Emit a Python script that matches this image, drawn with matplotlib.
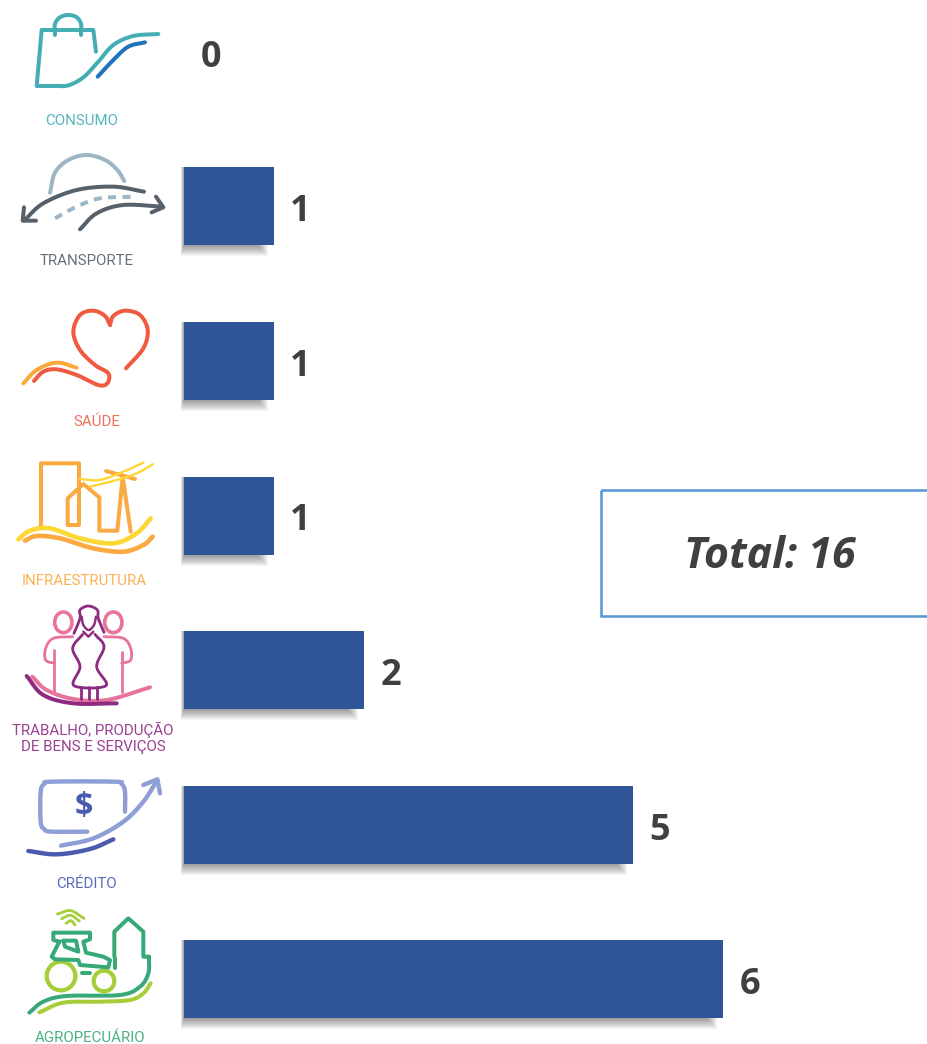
import numpy as np
import matplotlib
matplotlib.use('Agg')
import matplotlib.pyplot as plt
from matplotlib.patches import Rectangle, Ellipse

categories = ['CONSUMO', 'TRANSPORTE', 'SAÚDE', 'INFRAESTRUTURA',
              'TRABALHO, PRODUÇÃO\nDE BENS E SERVIÇOS', 'CRÉDITO', 'AGROPECUÁRIO']
values = [0, 1, 1, 1, 2, 5, 6]
total_label = 'Total: 16'
label_colors = ['#45AEB5', '#56616B', '#F0604A', '#FBA941', '#8E2A82', '#4A5BAE', '#37A878']
label_centers = [(82, 121), (87, 261), (97, 422), (84.5, 581), (93, 738), (86, 884), (90, 1038)]

W, H = 927, 1044
PX_X = 89.83   # pixels per unit of value
PX_Y = 154.6   # pixels between rows
X0 = 184
Y0 = 51.8

fig = plt.figure(figsize=(W / 100, H / 100), dpi=100, facecolor='white')

# ---- Bars, on their own scale ----
ax = fig.add_axes([0, 0, 1, 1])
ax.set_xlim(-X0 / PX_X, (W - X0) / PX_X)
ax.set_ylim((H - Y0) / PX_Y, -Y0 / PX_Y)
ax.axis('off')

rows = np.arange(len(categories))
vals = np.array(values)
bar_h = 78 / PX_Y

# soft shadow under each bar, built up from a few faint bars
for k in range(1, 12):
    ax.barh(rows + (k / 2) / PX_Y,
            np.where(vals > 0, vals - (17 - k) / PX_X + (0.3 * k) / PX_X, 0),
            left=-(0.3 * k) / PX_X, height=bar_h + k / PX_Y,
            color='black', alpha=0.04, linewidth=0, zorder=1)

ax.barh(rows, vals, height=bar_h, color='#2F5597', linewidth=0, zorder=2)

for r, v in zip(rows, values):
    ax.annotate(str(v), xy=(v, r), xytext=(16.5 * 0.72, -4.2), textcoords='offset points',
                ha='left', va='center', fontsize=26, fontweight='bold', family='Open Sans',
                color='#404040', zorder=3)

# ---- Icons and box, in pixel coordinates ----
ov = fig.add_axes([0, 0, 1, 1], facecolor='none')
ov.set_xlim(0, W)
ov.set_ylim(H, 0)
ov.axis('off')


def smooth(pts, n=16):
    # Catmull-Rom through the points
    p = np.array(pts, dtype=float)
    p = np.vstack([2 * p[0] - p[1], p, 2 * p[-1] - p[-2]])
    out = []
    for i in range(1, len(p) - 2):
        t = np.linspace(0, 1, n)[:, None]
        a, b, c, d = p[i - 1], p[i], p[i + 1], p[i + 2]
        out.append(0.5 * (2 * b + (c - a) * t + (2 * a - 5 * b + 4 * c - d) * t ** 2
                          + (3 * b - a - 3 * c + d) * t ** 3))
    return np.vstack(out)


def draw(pts, color, lw=4.0, off=(0, 0), curve=True, **kw):
    xy = smooth(pts) if curve else np.array(pts, dtype=float)
    ov.plot(off[0] + xy[:, 0] / 3, off[1] + xy[:, 1] / 3, color=color, lw=lw * 0.72,
            solid_capstyle='round', solid_joinstyle='round', **kw)


def ring(cx, cy, w, h, color, off, lw=3.6):
    ov.add_patch(Ellipse((off[0] + cx / 3, off[1] + cy / 3), w / 3, h / 3, fill=False,
                         edgecolor=color, lw=lw * 0.72))


# consumo
o = (0, 0)
c, c2 = '#45AEB5', '#1F72BC'
draw([(288, 155), (280, 90), (125, 90), (110, 258), (165, 258)], c, off=o, curve=False)
draw([(165, 258), (205, 256), (250, 232), (295, 185), (340, 135), (400, 108), (475, 102)], c, off=o)
draw([(293, 230), (340, 180), (385, 140), (435, 127)], c2, off=o)
draw([(165, 105), (165, 72), (180, 52), (205, 45), (230, 52), (243, 72), (243, 105)], c, off=o)

# transporte
c, c2 = '#56616B', '#9CB6C6'
draw([(150, 578), (165, 518), (205, 480), (260, 465), (315, 480), (352, 510), (373, 543)], c2, off=o)
draw([(432, 575), (340, 560), (230, 570), (130, 610), (72, 662)], c, off=o)
draw([(72, 622), (68, 662), (108, 662)], c, off=o, curve=False)
draw([(240, 688), (290, 640), (370, 615), (488, 620)], c, off=o)
draw([(468, 590), (490, 622), (455, 637)], c, off=o, curve=False)
xy = smooth([(165, 655), (230, 620), (300, 595), (405, 590)])
ov.plot(xy[:, 0] / 3, xy[:, 1] / 3, color=c2, lw=4.0 * 0.72, ls=(0, (2.0, 1.6)))

# saude
o = (0, 290)
c, c2 = '#F05A40', '#FBA93A'
draw([(378, 235), (430, 175), (443, 120), (420, 75), (375, 62), (340, 78), (330, 105)], c, off=o)
draw([(330, 105), (315, 78), (280, 62), (240, 75), (220, 125), (240, 180), (285, 225),
      (325, 250), (322, 280), (295, 285), (230, 255), (170, 238), (130, 245), (102, 273)], c, off=o)
draw([(70, 280), (110, 240), (170, 218), (230, 233)], c2, off=o)

# infraestrutura
c, c2 = '#FBA941', '#FDD835'
draw([(123, 710), (123, 520), (237, 520), (237, 705), (203, 705), (203, 625), (250, 582),
      (298, 622), (298, 722), (352, 722), (368, 560), (392, 725)], c, off=o, curve=False)
draw([(318, 543), (405, 567)], c, off=o, curve=False)
draw([(240, 567), (300, 570), (370, 545), (430, 518)], c2, lw=2.4, off=o)
draw([(270, 590), (350, 570), (410, 550), (458, 523)], c2, lw=2.4, off=o)
draw([(55, 748), (90, 722), (150, 715), (240, 745), (340, 760), (410, 730), (452, 685)], c2, lw=4.6, off=o)
draw([(75, 752), (110, 738), (180, 745), (280, 775), (370, 785), (430, 765), (458, 740)], c, lw=4.6, off=o)

# trabalho
o = (0, 595)
c, c2 = '#E8739C', '#8E2A82'
ring(190, 82, 52, 62, c, o)
ring(340, 82, 52, 62, c, o)
draw([(218, 125), (160, 130), (137, 160), (137, 195), (163, 205)], c, lw=2.8, off=o)
draw([(312, 125), (370, 130), (392, 160), (392, 195), (365, 205)], c, lw=2.8, off=o)
draw([(163, 165), (163, 292)], c, lw=2.8, off=o, curve=False)
draw([(365, 170), (365, 292)], c, lw=2.8, off=o, curve=False)
draw([(97, 245), (140, 285), (220, 312), (320, 315), (450, 277)], c, off=o)
draw([(80, 243), (130, 300), (220, 325), (350, 325)], c2, off=o)
draw([(248, 118), (218, 160), (240, 215), (222, 272), (318, 272), (290, 215), (312, 155), (285, 118)],
     c2, lw=2.8, off=o)
draw([(222, 115), (240, 70), (240, 45), (265, 33), (292, 45), (295, 70), (312, 112)], c2, lw=2.8, off=o)
draw([(245, 65), (250, 90), (266, 105), (282, 90), (288, 65)], c2, lw=2.4, off=o)
draw([(250, 110), (265, 125), (280, 110)], c2, lw=2.4, off=o, curve=False)
for lx in (243, 268, 292):
    draw([(lx, 275), (lx, 312)], c2, lw=2.8, off=o, curve=False)

# credito
c, c2 = '#8F9FD6', '#4A5BAE'
draw([(262, 710), (155, 710), (133, 703), (122, 680), (122, 590), (133, 567), (155, 560), (345, 560),
      (365, 567), (375, 590), (375, 650)], c, lw=4.4, off=o)
draw([(183, 752), (280, 730), (370, 680), (430, 620), (472, 555)], c, lw=4.4, off=o)
draw([(430, 570), (472, 553), (480, 595)], c, lw=4.4, off=o, curve=False)
draw([(85, 768), (170, 778), (270, 762), (340, 733)], c2, lw=4.4, off=o)
ov.text(250 / 3, 595 + 638 / 3, '$', ha='center', va='center', fontsize=23, fontweight='bold',
        family='Open Sans', color=c2, parse_math=False)

# agropecuario
o = (0, 890)
c, c2 = '#37A878', '#A6CE39'
draw([(172, 72), (212, 62), (252, 85)], c2, lw=2.8, off=o)
draw([(185, 86), (212, 76), (238, 93)], c2, lw=2.8, off=o)
draw([(198, 100), (213, 92), (225, 105)], c2, lw=2.8, off=o)
draw([(178, 155), (160, 150), (160, 128), (270, 128), (270, 148), (250, 155), (258, 188), (310, 200),
      (330, 210), (325, 232), (240, 225), (235, 210), (165, 208), (155, 200), (178, 155)], c, off=o, curve=False)
draw([(190, 152), (228, 152), (235, 185), (195, 170), (190, 152)], c, off=o, curve=False)
ring(183, 258, 86, 86, c2, o, lw=4.2)
ring(312, 273, 62, 62, c2, o, lw=4.2)
draw([(245, 250), (270, 250)], c, off=o, curve=False)
draw([(345, 205), (345, 235)], c, off=o, curve=False)
draw([(343, 200), (343, 125), (385, 85), (430, 125), (430, 200), (447, 200)], c, off=o, curve=False)
draw([(447, 200), (445, 250), (420, 290), (360, 315), (200, 318), (130, 335), (88, 368)], c, off=o)
draw([(118, 367), (190, 338), (300, 335), (390, 330), (430, 310), (452, 280)], c2, off=o)

# category captions
for name, col, (tx, ty) in zip(categories, label_colors, label_centers):
    ov.text(tx, ty, name, ha='center', va='center', fontsize=10.8, family='Roboto',
            color=col, alpha=0.9, linespacing=1.15)

# total box runs off the right edge
ov.add_patch(Rectangle((601, 490), 400, 126, fill=False, edgecolor='#5B9BD5', lw=2.6 * 0.72))
ov.text(770, 557, total_label, ha='center', va='center', fontsize=31, fontweight='bold', style='italic',
        family='Open Sans', color='#404040')

plt.savefig('out.png', dpi=100, facecolor='white')
